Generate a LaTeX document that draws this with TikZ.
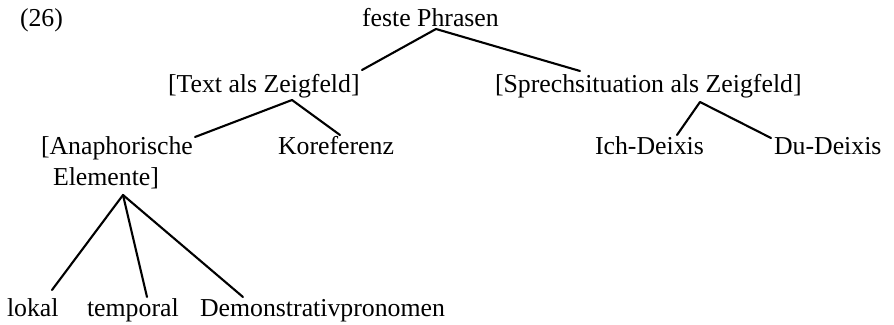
\documentclass[tikz,border=0pt]{standalone}
\usepackage{fontspec}
\setmainfont{Liberation Serif}
\begin{document}
\begin{tikzpicture}[x=1pt,y=-1pt,
  lbl/.style={anchor=base west,inner sep=0pt,outer sep=0pt,
    font=\fontsize{25.8}{30}\selectfont},
  edge/.style={line width=2.1pt,line cap=round,line join=round}]
\useasboundingbox[fill=white] (0,0) rectangle (894,324);

% example number
\node[lbl] (num) at (20,27) {(26)};

% tree labels
\node[lbl] (fp)   at (362,27)  {feste Phrasen};
\node[lbl] (tz)   at (168,92)  {[Text als Zeigfeld]};
\node[lbl] (sp)   at (495,92)  {[Sprechsituation als Zeigfeld]};
\node[lbl] (ana)  at (41,154)  {[Anaphorische};
\node[lbl] (el)   at (53,185)  {Elemente]};
\node[lbl] (kor)  at (278,154) {Koreferenz};
\node[lbl] (ich)  at (595,154) {Ich-Deixis};
\node[lbl] (du)   at (774,154) {Du-Deixis};
\node[lbl] (lok)  at (7,316)   {lokal};
\node[lbl] (tmp)  at (87,316)  {temporal};
\node[lbl] (dem)  at (200,316) {Demonstrativpronomen};

% branches
\draw[edge] ([shift={(194,-22)}]tz.base west) -- ([shift={(74,2)}]fp.base west)
            -- ([shift={(85,-21)}]sp.base west);
\draw[edge] ([shift={(154,-17)}]ana.base west) -- ([shift={(124,8)}]tz.base west)
            -- ([shift={(62,-19)}]kor.base west);
\draw[edge] ([shift={(82,-19)}]ich.base west) -- ([shift={(205,10)}]sp.base west)
            -- ([shift={(-3,-16)}]du.base west);
\draw[edge] ([shift={(45,-26)}]lok.base west) -- ([shift={(70,10)}]el.base west);
\draw[edge] ([shift={(60,-19)}]tmp.base west) -- ([shift={(70,10)}]el.base west);
\draw[edge] ([shift={(43,-19)}]dem.base west) -- ([shift={(70,10)}]el.base west);
\end{tikzpicture}
\end{document}
